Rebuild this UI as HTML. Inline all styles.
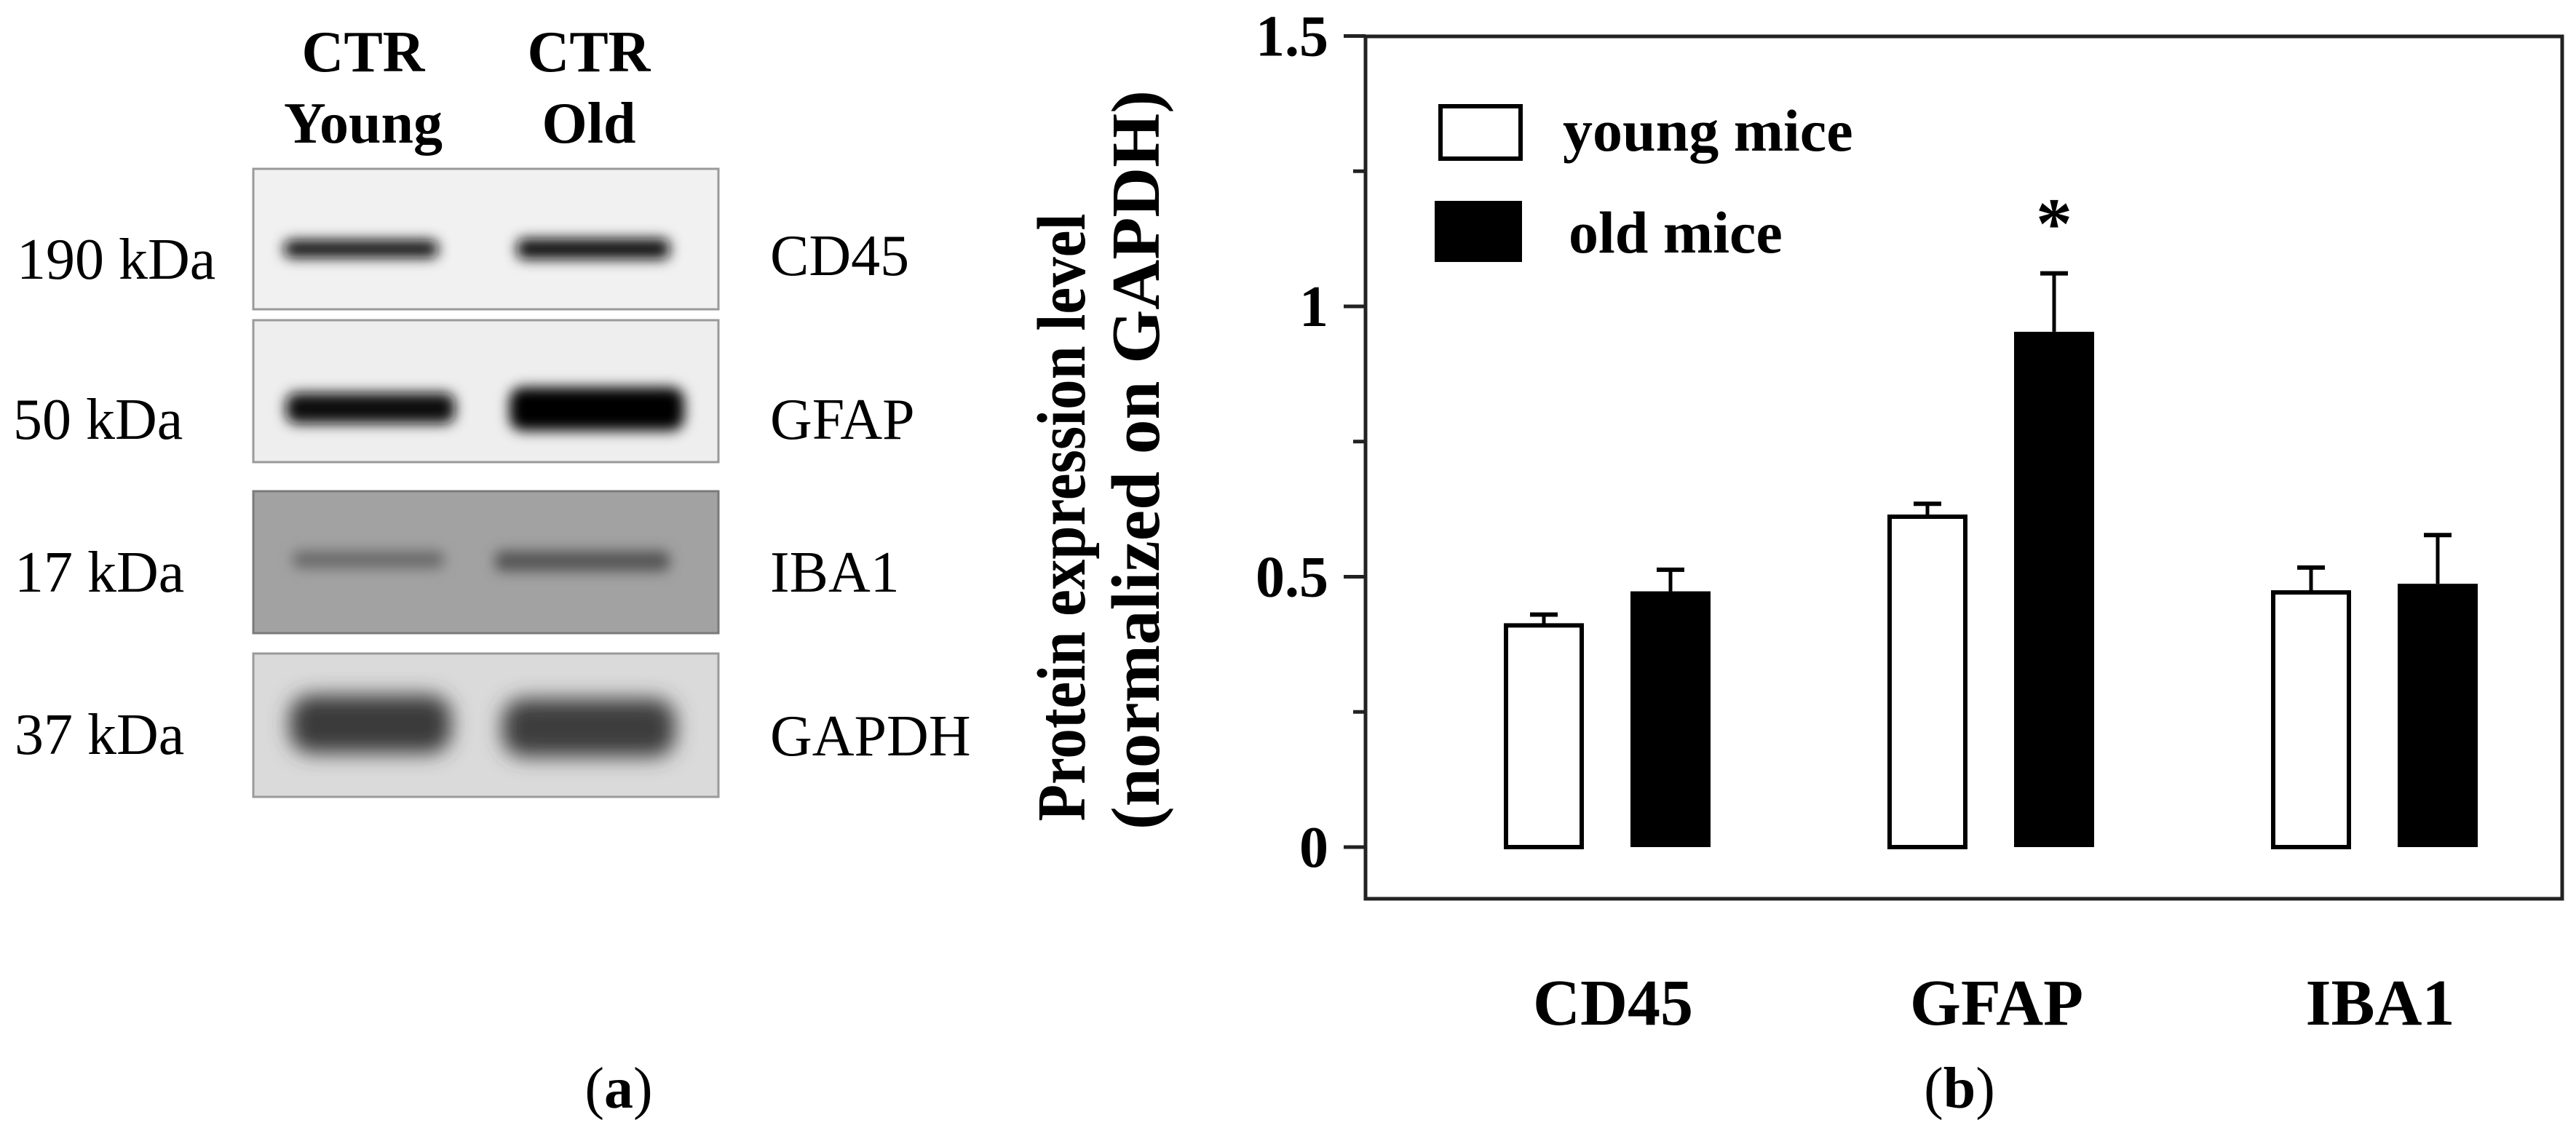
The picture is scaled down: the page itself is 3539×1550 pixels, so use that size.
<!DOCTYPE html>
<html><head><meta charset="utf-8"><style>
html,body{margin:0;padding:0;background:#fff}
svg{display:block}
text{font-family:"Liberation Serif",serif}
</style></head><body>
<svg id="fig" width="3539" height="1550" viewBox="0 0 3539 1550" xmlns="http://www.w3.org/2000/svg">
<defs>
<filter id="blur1" x="-20%" y="-100%" width="140%" height="300%"><feGaussianBlur stdDeviation="9"/></filter>
<filter id="blur2" x="-20%" y="-100%" width="140%" height="300%"><feGaussianBlur stdDeviation="14"/></filter>
</defs>
<g id="panelA">
  <text x="499" y="98" font-size="80" font-weight="bold" text-anchor="middle">CTR</text>
  <text x="499" y="196" font-size="80" font-weight="bold" text-anchor="middle">Young</text>
  <text x="809" y="98" font-size="80" font-weight="bold" text-anchor="middle">CTR</text>
  <text x="809" y="196" font-size="80" font-weight="bold" text-anchor="middle">Old</text>

  <g>
    <rect x="348" y="232" width="639" height="193" fill="#f1f1f1" stroke="#9a9a9a" stroke-width="3"/>
    <rect x="390" y="330" width="212" height="24" rx="10" fill="#111" filter="url(#blur1)"/>
    <rect x="710" y="328" width="210" height="28" rx="10" fill="#0a0a0a" filter="url(#blur1)"/>
  </g>
  <g>
    <rect x="348" y="440" width="639" height="195" fill="#eeeeee" stroke="#9a9a9a" stroke-width="3"/>
    <rect x="393" y="540" width="232" height="42" rx="14" fill="#111" filter="url(#blur1)"/>
    <rect x="700" y="532" width="240" height="60" rx="18" fill="#000" filter="url(#blur1)"/>
  </g>
  <g>
    <rect x="348" y="675" width="639" height="195" fill="#a2a2a2" stroke="#7a7a7a" stroke-width="3"/>
    <rect x="402" y="757" width="208" height="24" rx="10" fill="#6a6a6a" filter="url(#blur1)"/>
    <rect x="680" y="757" width="240" height="28" rx="10" fill="#555" filter="url(#blur1)"/>
  </g>
  <g>
    <rect x="348" y="898" width="639" height="197" fill="#dadada" stroke="#9a9a9a" stroke-width="3"/>
    <rect x="398" y="955" width="222" height="80" rx="30" fill="#3a3a3a" filter="url(#blur2)"/>
    <rect x="690" y="960" width="238" height="80" rx="30" fill="#3c3c3c" filter="url(#blur2)"/>
  </g>

  <text x="23" y="383" font-size="80">190 kDa</text>
  <text x="18" y="603" font-size="80">50 kDa</text>
  <text x="20" y="813" font-size="80">17 kDa</text>
  <text x="20" y="1036" font-size="80">37 kDa</text>

  <text x="1058" y="378" font-size="80">CD45</text>
  <text x="1058" y="603" font-size="80">GFAP</text>
  <text x="1058" y="813" font-size="80">IBA1</text>
  <text x="1058" y="1038" font-size="80">GAPDH</text>

  <text x="850" y="1522" font-size="80" text-anchor="middle">(<tspan font-weight="bold">a</tspan>)</text>
</g>
<g id="panelB"></g>
</svg>
<script>
var categories = ["CD45", "GFAP", "IBA1"];
var youngValues = [0.41, 0.611, 0.471];
var youngErrors = [0.02, 0.024, 0.046];
var oldValues = [0.473, 0.953, 0.487];
var oldErrors = [0.04, 0.108, 0.09];
var yTicks = [0, 0.5, 1, 1.5];
var yTickLabels = ["0", "0.5", "1", "1.5"];
var yMinorTicks = [0.25, 0.75, 1.25];
var significant = [false, true, false];

(function(){
  var NS = "http://www.w3.org/2000/svg";
  var g = document.getElementById("panelB");
  var L = 1876, R = 3520, T = 50, B = 1235;
  var y0 = 1164, pxPerUnit = 743;
  function y(v){ return y0 - v * pxPerUnit; }
  var groupStart = 2066, groupStep = 527, barW = 110, pairGap = 174;
  function xYoung(i){ return groupStart + i * groupStep; }
  function xOld(i){ return xYoung(i) + pairGap; }
  function mk(tag, attrs){ var e = document.createElementNS(NS, tag); for (var k in attrs) e.setAttribute(k, attrs[k]); g.appendChild(e); return e; }

  var frame = mk("rect", {x:L, y:T, width:R-L, height:B-T, fill:"none", stroke:"#222", "stroke-width":5});
  
  

  yTicks.forEach(function(v, i){
    var t = mk("line", {x1:L-30, x2:L, y1:y(v), y2:y(v), stroke:"#222", "stroke-width":5});
    
    
    var lb = mk("text", {x:1825, y:y(v)+27, "font-size":80, "font-weight":"bold", "text-anchor":"end"});
    lb.textContent = yTickLabels[i];
    
    
  });
  yMinorTicks.forEach(function(v){
    var t = mk("line", {x1:L-17, x2:L, y1:y(v), y2:y(v), stroke:"#222", "stroke-width":5});
    
    
  });

  var t1 = mk("text", {x:0, y:0, "font-size":94, "font-weight":"bold", "text-anchor":"middle", transform:"translate(1490,711) rotate(-90)", textLength:835, lengthAdjust:"spacingAndGlyphs"});
  t1.textContent = "Protein expression level";
  
  
  var t2 = mk("text", {x:0, y:0, "font-size":94, "font-weight":"bold", "text-anchor":"middle", transform:"translate(1592,632) rotate(-90)", textLength:1016, lengthAdjust:"spacingAndGlyphs"});
  t2.textContent = "(normalized on GAPDH)";
  
  

  function errBar(cx, v, e, name){
    var l = mk("line", {x1:cx, x2:cx, y1:y(v), y2:y(v+e), stroke:"#000", "stroke-width":5});
    
    
    var c = mk("line", {x1:cx-19, x2:cx+19, y1:y(v+e), y2:y(v+e), stroke:"#000", "stroke-width":6});
    
    
  }

  categories.forEach(function(cat, i){
    var key = cat.toLowerCase();
    errBar(xYoung(i)+barW/2, youngValues[i], youngErrors[i], 'error-bar-young-' + key);
    var by = mk("rect", {x:xYoung(i)+3, y:y(youngValues[i]), width:barW-6, height:y(0)-y(youngValues[i]), fill:"#fff", stroke:"#000", "stroke-width":6});
    
    
    errBar(xOld(i)+barW/2, oldValues[i], oldErrors[i], 'error-bar-old-' + key);
    var bo = mk("rect", {x:xOld(i), y:y(oldValues[i]), width:barW, height:y(0)-y(oldValues[i]), fill:"#000"});
    
    
    if (significant[i]) {
      var s = mk("text", {x:xOld(i)+barW/2, y:y(oldValues[i]+oldErrors[i])-35, "font-size":100, "font-weight":"bold", "text-anchor":"middle"});
      s.textContent = "*";
      
      
    }
    var lb = mk("text", {x:(xYoung(i)+xOld(i)+barW)/2+8, y:1408, "font-size":90, "font-weight":"bold", "text-anchor":"middle"});
    lb.textContent = cat;
    
    
  });

  var lw = mk("rect", {x:1979, y:146, width:110, height:72, fill:"#fff", stroke:"#000", "stroke-width":6});
  
  
  var lt1 = mk("text", {x:2147, y:207, "font-size":82, "font-weight":"bold"});
  lt1.textContent = "young mice";
  
  
  var lbk = mk("rect", {x:1971, y:276, width:120, height:84, fill:"#000"});
  
  
  var lt2 = mk("text", {x:2155, y:347, "font-size":82, "font-weight":"bold"});
  lt2.textContent = "old mice";
  
  

  var pb = mk("text", {x:2692, y:1522, "font-size":80, "text-anchor":"middle"});
  pb.innerHTML = '(<tspan font-weight="bold">b</tspan>)';
  
  
})();
</script>
</body></html>
